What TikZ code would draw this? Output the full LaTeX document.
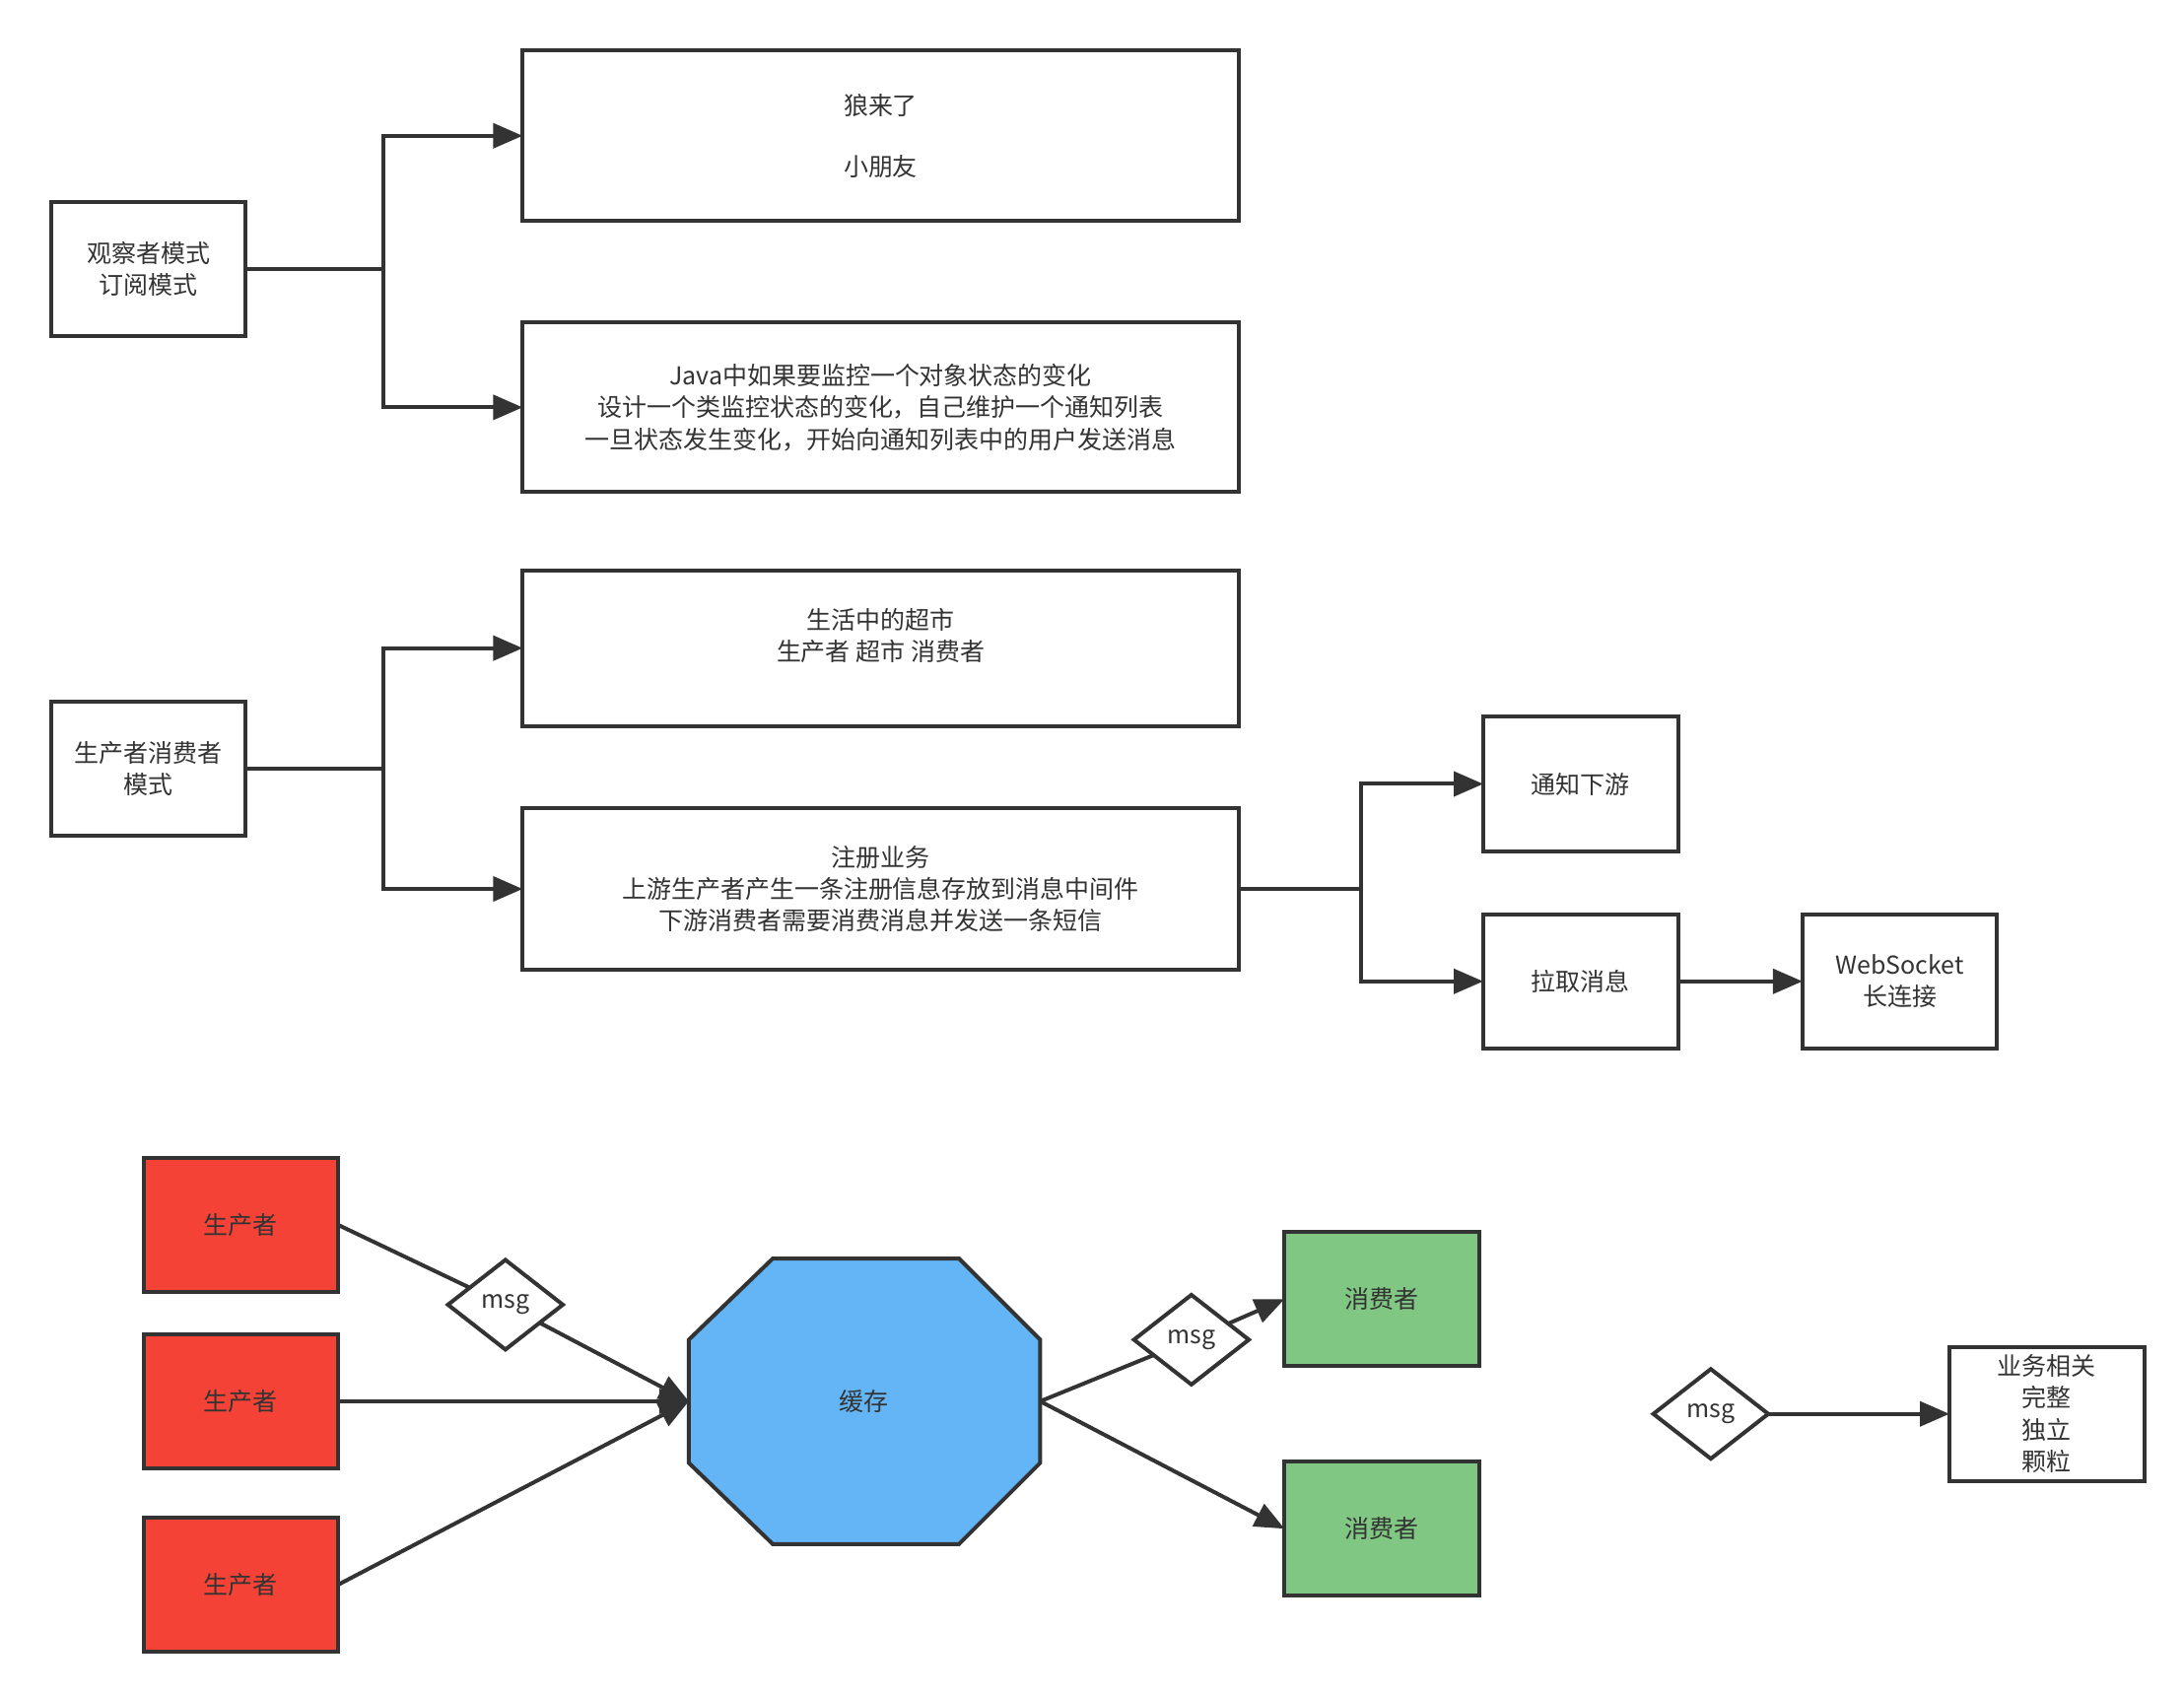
\documentclass[tikz,border=0pt]{standalone}
\usepackage{fontspec}
\setmainfont{Noto Sans CJK SC}
\usetikzlibrary{arrows.meta,shapes.geometric}
\definecolor{ln}{HTML}{333333}
\definecolor{redbox}{HTML}{F44336}
\definecolor{bluebox}{HTML}{64B5F6}
\definecolor{greenbox}{HTML}{7FC783}
\begin{document}
\begin{tikzpicture}[x=0.01cm,y=-0.01cm,
  txt/.style={align=center, inner sep=0pt, font=\fontsize{5}{6.5}\selectfont, text=ln},
  box/.style={txt, draw=ln, line width=0.8pt, outer sep=0pt},
  small/.style={box, minimum width=1.39cm, minimum height=0.96cm},
  wide/.style={box, minimum width=5.11cm},
  msg/.style={box, diamond, minimum width=0.82cm, minimum height=0.64cm, fill=white},
  con/.style={draw=ln, line width=0.8pt},
  arr/.style={con, -{Triangle[length=6pt,width=5pt]}}]

\useasboundingbox (0,0) rectangle (1560,1212);

%% first group
\node[small] (obs) at (106,192) {观察者模式\\订阅模式};
\node[wide, minimum height=1.22cm] (wolf) at (629,97) {狼来了\\[6pt]小朋友};
\node[wide, minimum height=1.21cm] (java) at (629,291)
  {Java中如果要监控一个对象状态的变化\\设计一个类监控状态的变化，自己维护一个通知列表\\一旦状态发生变化，开始向通知列表中的用户发送消息};
\coordinate (jobs) at (274,192);
\draw[con] (obs.east) -- (jobs);
\draw[arr] (jobs) |- (wolf.west);
\draw[arr] (jobs) |- (java.west);

%% second group
\node[small] (pc) at (106,549) {生产者消费者\\模式};
\node[wide, minimum height=1.11cm] (shop) at (629,463) {};
\node[txt] at (629,454) {生活中的超市\\生产者 超市 消费者};
\node[wide, minimum height=1.15cm] (reg) at (629,635)
  {注册业务\\上游生产者产生一条注册信息存放到消息中间件\\下游消费者需要消费消息并发送一条短信};
\coordinate (jpc) at (274,549);
\draw[con] (pc.east) -- (jpc);
\draw[arr] (jpc) |- (shop.west);
\draw[arr] (jpc) |- (reg.west);

\node[small] (notify) at (1129,560) {通知下游};
\node[small] (pull) at (1129,701) {拉取消息};
\node[small] (ws) at (1357,701) {WebSocket\\长连接};
\coordinate (jreg) at (972,635);
\draw[con] (reg.east) -- (jreg);
\draw[arr] (jreg) |- (notify.west);
\draw[arr] (jreg) |- (pull.west);
\draw[arr] (pull) -- (ws);

%% third group
\node[small, fill=redbox] (p1) at (172,875) {生产者};
\node[small, fill=redbox] (p2) at (172,1001) {生产者};
\node[small, fill=redbox] (p3) at (172,1132) {生产者};
\draw[con, fill=bluebox] (552,899) -- (685,899) -- (743,957) -- (743,1045)
  -- (685,1103) -- (552,1103) -- (492,1045) -- (492,957) -- cycle;
\node[txt] (cache) at (617,1001) {缓存};
\coordinate (cw) at (492,1001);
\coordinate (ce) at (743,1001);
\node[msg] (m1) at (361,932) {msg};
\node[msg] (m2) at (851,957) {msg};
\node[small, fill=greenbox] (c1) at (987,928) {消费者};
\node[small, fill=greenbox] (c2) at (987,1092) {消费者};

\draw[con] (p1.east) -- (m1);
\draw[arr] (m1) -- (cw);
\draw[arr] (p2.east) -- (cw);
\draw[arr] (p3.east) -- (cw);
\draw[con] (ce) -- (m2);
\draw[arr] (m2) -- (c1.west);
\draw[arr] (ce) -- (c2.west);

\node[msg] (m3) at (1222,1010) {msg};
\node[small] (biz) at (1462,1010) {业务相关\\完整\\独立\\颗粒};
\draw[arr] (m3.east) -- (biz.west);

\end{tikzpicture}
\end{document}
